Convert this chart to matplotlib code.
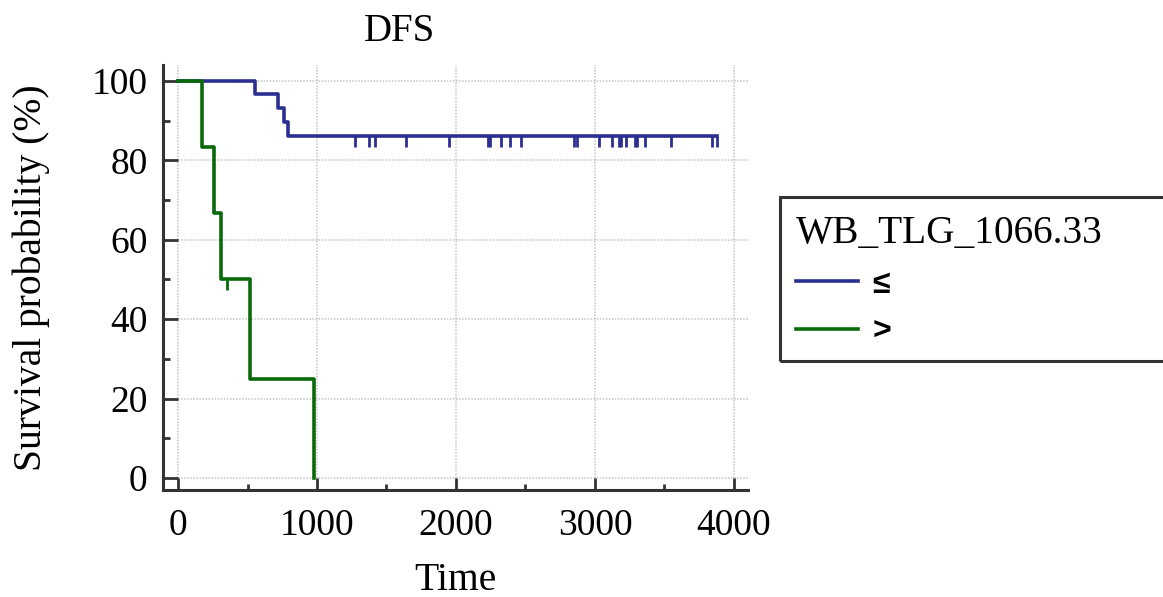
import numpy as np
import matplotlib
matplotlib.use('Agg')
import matplotlib.pyplot as plt
from matplotlib.patches import Rectangle

# Kaplan-Meier curves (time, survival %)
low_times = [0, 554, 720, 763, 789, 3880]
low_surv = [100, 96.6, 93.1, 89.7, 86.2, 86.2]
low_censor = [1273, 1374, 1417, 1638, 1950, 2232, 2246, 2321, 2388, 2470,
              2851, 2873, 3031, 3125, 3176, 3186, 3221, 3290, 3300, 3360,
              3547, 3839, 3875]

high_times = [0, 175, 260, 307, 518, 981]
high_surv = [100, 83.3, 66.7, 50, 25, 0]
high_censor = [350]

group_labels = ['≤', '>']
legend_title = 'WB_TLG_1066.33'
blue = '#2b2f91'
green = '#0a6a0a'
axis_col = '#333333'

plt.rcParams['font.family'] = ['Liberation Serif', 'DejaVu Serif']

fig = plt.figure(figsize=(11.63, 5.97), dpi=100)
ax = fig.add_axes([163 / 1163, 1 - 490 / 597, (748 - 163) / 1163, (490 - 65) / 597])

xmin, xmax = -108, 4101
ymin, ymax = -3.0, 104.0
ax.set_xlim(xmin, xmax)
ax.set_ylim(ymin, ymax)

# dotted grid, only over the data region
grid_kw = dict(colors='#c4c4c4', linestyles=(0, (1, 1)), linewidth=1.1, zorder=0)
ax.hlines(np.arange(0, 101, 20), 0, xmax, **grid_kw)
ax.vlines(np.arange(0, 4001, 1000), 0, ymax, **grid_kw)

def km_level(times, surv, t):
    idx = np.searchsorted(times, t, side='right') - 1
    return np.asarray(surv)[idx]

l1, = ax.step(low_times, low_surv, where='post', color=blue, lw=2.6,
              label=group_labels[0], zorder=3)
ax.plot(low_censor, km_level(low_times, low_surv, low_censor), ls='none',
        marker=3, ms=8, mew=2.0, color=blue, zorder=3)

l2, = ax.step(high_times, high_surv, where='post', color=green, lw=2.6,
              label=group_labels[1], zorder=3)
ax.plot(high_censor, km_level(high_times, high_surv, high_censor), ls='none',
        marker=3, ms=8, mew=2.0, color=green, zorder=3)

for s in ['top', 'right']:
    ax.spines[s].set_visible(False)
for s in ['left', 'bottom']:
    ax.spines[s].set_color(axis_col)
    ax.spines[s].set_linewidth(2.2)

ax.set_xticks(np.arange(0, 4001, 1000))
ax.set_xticks(np.arange(500, 4000, 1000), minor=True)
ax.set_yticks(np.arange(0, 101, 20))
ax.set_yticks(np.arange(10, 100, 20), minor=True)
ax.tick_params(axis='both', which='both', direction='in', color=axis_col,
               width=2.0, labelsize=27)
ax.tick_params(axis='y', which='major', length=11, pad=11)
ax.tick_params(axis='y', which='minor', length=5)
ax.tick_params(axis='x', which='major', length=9, pad=13)
ax.tick_params(axis='x', which='minor', length=4)

ax.set_xlabel('Time', fontsize=28.5, labelpad=14)
ax.set_ylabel('Survival probability (%)', fontsize=28.5, labelpad=30)
ax.set_title('DFS', fontsize=28, pad=17, x=(400 - 163) / (748 - 163))

# legend box, cut off by the right edge like the reference
fig.patches.append(Rectangle((780 / 1163, 1 - 361 / 597), 0.4, (361 - 197) / 597,
                             transform=fig.transFigure, fill=False,
                             edgecolor=axis_col, lw=2.2, clip_on=False))
leg = fig.legend(handles=[l1, l2], loc='upper left',
                 bbox_to_anchor=(780 / 1163, 1 - 199 / 597), frameon=False,
                 title=legend_title, alignment='left',
                 title_fontproperties={'family': 'Liberation Serif', 'size': 28.3},
                 prop={'family': ['Liberation Sans', 'DejaVu Sans'], 'weight': 'bold', 'size': 23},
                 handlelength=1.95, handletextpad=0.45, labelspacing=0.55, borderpad=0)

fig.savefig('out.png', dpi=100)
